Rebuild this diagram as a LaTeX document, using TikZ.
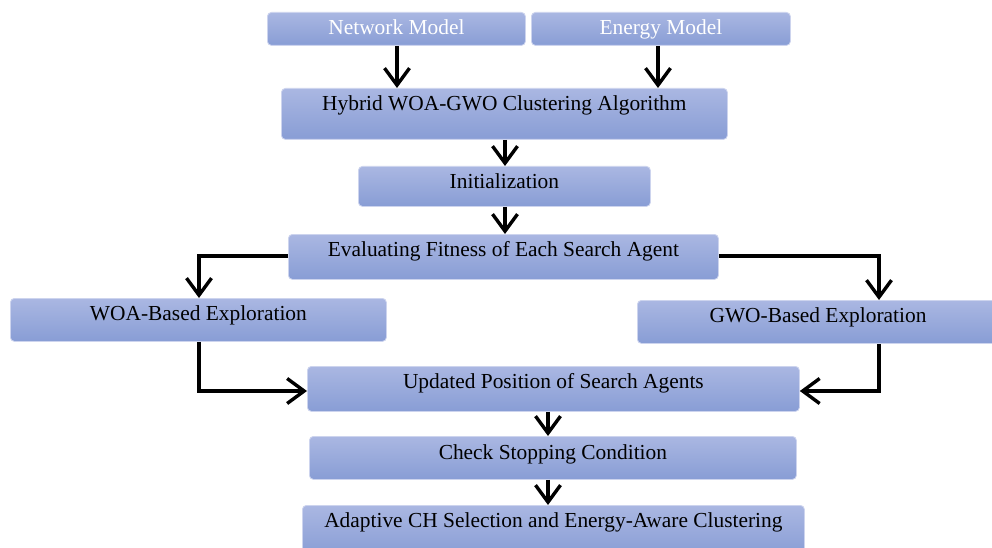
\documentclass[tikz,border=0pt]{standalone}
\usepackage{fontspec}
\setmainfont{Liberation Serif}
\usetikzlibrary{arrows.meta,calc}
\definecolor{boxtop}{RGB}{170,183,226}
\definecolor{boxbot}{RGB}{136,157,213}
\definecolor{boxedge}{RGB}{205,212,238}
\tikzset{
  box/.style={rectangle, rounded corners=4pt, top color=boxtop, bottom color=boxbot, draw=boxedge, line width=0.8pt, inner sep=0pt},
  lbl/.style={font=\fontsize{21.4}{24}\selectfont, inner sep=0pt, anchor=base},
  conn/.style={line width=3.4pt, -{Straight Barb[length=17pt,width=25pt,line width=3.4pt]}},
}
\newcommand{\mybox}[6]{%
  \node[box, anchor=north west, minimum width=#4pt-#2pt, minimum height=#5pt-#3pt] (#1) at (#2,-#3) {};}
\begin{document}
\begin{tikzpicture}[x=1pt,y=1pt]
\useasboundingbox (0,0) rectangle (992,-548);
\fill[white] (0,0) rectangle (992,-548);
\mybox{net}{267}{12}{525}{45}{}
\mybox{ene}{531}{12}{790}{45}{}
\mybox{hyb}{281}{88}{727}{139}{}
\mybox{ini}{358}{166}{650}{206}{}
\mybox{eva}{288}{234}{718}{279}{}
\mybox{woa}{10}{298}{386}{341}{}
\mybox{gwo}{637}{300}{998}{343}{}
\mybox{upd}{307}{366}{799}{411}{}
\mybox{chk}{309}{436}{796}{479}{}
\mybox{ada}{302}{505}{804}{556}{}
\node[lbl, text=white] at ($(net.north)+(0,-23)$) {Network Model};
\node[lbl, text=white] at ($(ene.north)+(0,-23)$) {Energy Model};
\node[lbl] at ($(hyb.north)+(0,-23)$) {Hybrid WOA-GWO Clustering Algorithm};
\node[lbl] at ($(ini.north)+(0,-23)$) {Initialization};
\node[lbl] at ($(eva.north)+(0,-22)$) {Evaluating Fitness of Each Search Agent};
\node[lbl] at ($(woa.north)+(0,-22)$) {WOA-Based Exploration};
\node[lbl] at ($(gwo.north west)+(181,-22)$) {GWO-Based Exploration};
\node[lbl] at ($(upd.north)+(0,-22)$) {Updated Position of Search Agents};
\node[lbl] at ($(chk.north)+(0,-23)$) {Check Stopping Condition};
\node[lbl] at ($(ada.north)+(0,-22)$) {Adaptive CH Selection and Energy-Aware Clustering};
% connectors
\draw[conn] (net.south -| 397,0) -- (hyb.north -| 397,0);
\draw[conn] (ene.south -| 658,0) -- (hyb.north -| 658,0);
\draw[conn] (hyb.south -| 505,0) -- (ini.north -| 505,0);
\draw[conn] (ini.south -| 505,0) -- (eva.north -| 505,0);
\draw[conn] (eva.west |- 0,-256) -| (woa.north -| 199,0);
\draw[conn] (eva.east |- 0,-256) -| (gwo.north -| 879,0);
\draw[conn] (woa.south -| 199,0) |- (upd.west |- 0,-391);
\draw[conn] (gwo.south -| 879,0) |- (upd.east |- 0,-391);
\draw[conn] (upd.south -| 548,0) -- (chk.north -| 548,0);
\draw[conn] (chk.south -| 548,0) -- (ada.north -| 548,0);
\end{tikzpicture}
\end{document}
